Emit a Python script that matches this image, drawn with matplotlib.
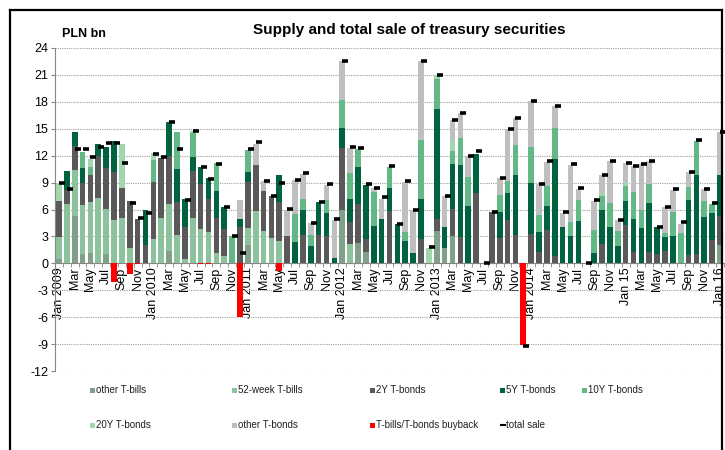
import matplotlib
matplotlib.use("Agg")
from matplotlib import pyplot as plt
from matplotlib.lines import Line2D
from matplotlib.patches import Rectangle
import numpy as np

plt.rcParams['font.family'] = ['Liberation Sans', 'DejaVu Sans']
plt.rcParams['axes.unicode_minus'] = False

# monthly data, Jan 2009 .. Jan 2016 (PLN bn)
months = ['Jan 2009', 'Feb', 'Mar', 'Apr', 'May', 'Jun', 'Jul', 'Aug', 'Sep', 'Oct', 'Nov', 'Dec',
          'Jan 2010', 'Feb', 'Mar', 'Apr', 'May', 'Jun', 'Jul', 'Aug', 'Sep', 'Oct', 'Nov', 'Dec',
          'Jan 2011', 'Feb', 'Mar', 'Apr', 'May', 'Jun', 'Jul', 'Aug', 'Sep', 'Oct', 'Nov', 'Dec',
          'Jan 2012', 'Feb', 'Mar', 'Apr', 'May', 'Jun', 'Jul', 'Aug', 'Sep', 'Oct', 'Nov', 'Dec',
          'Jan 2013', 'Feb', 'Mar', 'Apr', 'May', 'Jun', 'Jul', 'Aug', 'Sep', 'Oct', 'Nov', 'Dec',
          'Jan 2014', 'Feb', 'Mar', 'Apr', 'May', 'Jun', 'Jul', 'Aug', 'Sep', 'Oct', 'Nov', 'Dec',
          'Jan 15', 'Feb', 'Mar', 'Apr', 'May', 'Jun', 'Jul', 'Aug', 'Sep', 'Oct', 'Nov', 'Dec',
          'Jan 16']

other_tbills = [0.5, 0, 5.3, 1.0, 1.2, 0, 1.0, 0, 0, 0, 0, 0,
                0, 0, 1.4, 0, 0, 0, 0, 0, 0, 0, 0, 0,
                2.0, 0, 0, 0, 0, 0, 0, 0, 0, 0, 0, 0,
                5.9, 0, 2.3, 1.3, 0, 0, 0, 0, 0, 0, 0, 0,
                3.6, 1.7, 3.0, 0, 0, 0, 0, 0, 0, 0, 0, 0,
                0, 0, 0, 0, 0, 0, 0, 0, 0, 0, 0, 0,
                0, 0, 0, 0, 0, 0, 0, 0, 0, 0, 0, 0,
                2.0]
tbills_52w = [2.4, 6.6, 5.1, 5.5, 5.6, 7.3, 5.1, 4.8, 5.0, 1.7, 0, 0,
              2.7, 5.1, 5.2, 3.2, 0.5, 5.0, 3.8, 3.5, 1.1, 0.8, 0, 0,
              1.9, 5.8, 3.6, 2.8, 2.5, 0, 0, 0, 0, 0, 0, 0,
              0, 2.2, 0, 0, 0, 0, 0, 0, 0, 0, 0, 0,
              0, 0, 0, 0, 0, 0, 0, 0, 0, 0, 0, 0,
              0, 0, 0, 0, 0, 0, 0, 0, 0, 0, 0, 0,
              0, 0, 0, 0, 0, 0, 0, 0, 0, 0, 0, 0,
              0]
bonds_2y = [4.1, 1.6, 2.7, 2.4, 3.0, 4.7, 4.5, 5.4, 3.4, 5.3, 4.9, 2.0,
            6.4, 6.6, 5.4, 3.6, 3.6, 5.3, 5.0, 3.7, 4.0, 3.0, 0, 4.0,
            5.2, 5.2, 4.5, 4.7, 4.3, 3.0, 0, 3.2, 0, 3.2, 3.1, 0,
            6.9, 2.4, 4.3, 1.4, 0, 0, 5.8, 0, 0, 0, 2.7, 0,
            1.3, 0, 3.1, 2.9, 0, 7.8, 0, 5.7, 2.8, 4.8, 3.2, 0,
            3.3, 1.3, 3.7, 0.8, 0, 0, 0, 0, 0, 2.2, 0, 0,
            4.3, 1.3, 0, 1.3, 1.0, 1.4, 0, 0, 0.9, 1.0, 0, 2.6,
            3.3]
bonds_5y = [0, 2.1, 1.5, 1.7, 0, 1.3, 2.4, 3.4, 0, 0, 0, 3.9,
            0, 0, 3.7, 3.7, 3.1, 1.5, 1.9, 2.3, 3.0, 2.5, 0, 0.9,
            1.1, 0, 0, 0, 3.0, 0, 2.4, 2.7, 1.9, 3.6, 2.5, 0.6,
            2.3, 2.6, 4.1, 6.0, 4.2, 4.9, 2.6, 4.4, 2.5, 1.2, 4.5, 0,
            12.3, 2.4, 5.0, 8.1, 6.4, 4.4, 0, 0, 2.9, 3.0, 6.7, 0,
            5.6, 2.2, 2.7, 10.8, 4.0, 3.0, 4.7, 0, 1.1, 3.8, 4.0, 1.9,
            2.7, 3.6, 3.9, 5.4, 3.0, 1.5, 3.1, 0, 6.2, 8.8, 5.2, 3.0,
            4.5]
bonds_10y = [0, 0, 0, 1.8, 0.9, 0, 0, 0, 0, 0, 0, 0,
             2.4, 0, 0, 4.1, 0, 2.7, 0, 0, 3.1, 0, 3.0, 0,
             2.4, 0, 0, 0, 0, 0, 3.1, 1.3, 1.3, 0, 1.5, 0,
             3.1, 2.9, 2.0, 0, 3.8, 0, 2.3, 0, 1.0, 0, 6.6, 0,
             3.3, 0, 1.4, 3.0, 3.2, 0, 0, 0, 1.9, 1.4, 3.3, 0,
             4.1, 1.9, 2.2, 3.5, 0, 1.6, 2.4, 0, 2.6, 1.5, 2.7, 1.7,
             1.6, 3.1, 2.1, 2.1, 0, 0.5, 2.6, 3.4, 1.4, 3.8, 1.7, 1.0,
             0]
bonds_20y = [1.9, 0, 0, 0, 0.9, 0, 0, 0, 4.9, 0, 0, 0,
             0.8, 0, 0, 0, 0, 0.3, 0, 0, 0, 0, 0, 0,
             0, 0, 0, 0, 0, 0, 0, 0, 0, 0, 0, 0,
             0, 0, 0, 0, 0, 0, 0, 0, 0, 0, 0, 1.7,
             0.5, 0, 1.1, 0, 0, 0, 0, 0, 0, 0, 0, 0,
             0, 0, 0, 0, 0, 0, 0, 0, 0, 0.3, 0, 0,
             0.5, 0, 0, 0, 0, 0, 0, 0, 0, 0, 0, 0,
             0]
other_bonds = [0, 0, 0, 0, 0, 0, 0, 0, 0, 0, 0, 0,
               0, 0, 0, 0, 0, 0, 0, 0, 0, 0, 0, 2.2,
               0, 2.3, 1.1, 0, 0, 3.0, 3.8, 2.8, 1.3, 0, 1.6, 4.2,
               4.4, 2.7, 0, 0, 0.4, 2.3, 0, 0, 5.6, 4.7, 8.8, 0,
               0, 3.4, 2.4, 2.8, 2.4, 0, 0, 0, 1.9, 5.8, 3.0, 0,
               5.1, 3.4, 2.7, 2.4, 1.6, 6.4, 1.2, 0, 3.3, 2.0, 4.7, 1.2,
               2.1, 2.9, 5.1, 2.6, 0, 2.9, 2.5, 1.0, 1.7, 0, 1.4, 0,
               4.8]
buyback = [0, 0, 0, 0, 0, 0, 0, -2.1, 0, -1.2, -0.1, 0,
           0, 0, 0, 0, 0, 0, -0.1, -0.1, 0, 0, 0, -6.0,
           0, 0, 0, 0, -0.9, 0, 0, 0, 0, 0, 0, 0,
           0, 0, 0, 0, 0, 0, 0, 0, 0, 0, 0, 0,
           0, 0, 0, 0, 0, 0, 0, 0, 0, 0, 0, -9.05,
           0, 0, 0, 0, 0, 0, 0, 0, 0, 0, 0, 0,
           0, 0, 0, 0, 0, 0, 0, 0, 0, 0, 0, 0,
           0]
total_sale = [9.0, 8.3, 12.7, 12.7, 11.8, 13.0, 13.4, 13.4, 11.2, 6.7, 5.0, 5.6,
              12.2, 11.8, 15.7, 12.7, 7.1, 14.7, 10.7, 9.4, 11.1, 6.3, 3.0, 1.2,
              12.7, 13.5, 9.2, 7.5, 8.9, 6.1, 9.3, 10.1, 4.5, 6.8, 8.8, 4.9,
              22.6, 13.0, 12.8, 8.8, 8.4, 7.4, 10.8, 4.4, 9.2, 5.9, 22.6, 1.8,
              21.0, 7.5, 16.0, 16.8, 12.0, 12.5, 0.0, 5.7, 9.5, 15.0, 16.2, -9.2,
              18.1, 8.8, 11.4, 17.5, 5.7, 11.1, 8.4, 0.0, 7.1, 9.8, 11.4, 4.8,
              11.2, 10.9, 11.1, 11.4, 4.0, 6.3, 8.3, 4.6, 10.2, 13.7, 8.3, 6.7,
              14.6]

series = [
    ('other T-bills', other_tbills, '#80A08A'),
    ('52-week T-bills', tbills_52w, '#8CC29C'),
    ('2Y T-bonds', bonds_2y, '#595959'),
    ('5Y T-bonds', bonds_5y, '#00623E'),
    ('10Y T-bonds', bonds_10y, '#62B887'),
    ('20Y T-bonds', bonds_20y, '#A2D6AC'),
    ('other T-bonds', other_bonds, '#BFBFBF'),
]

fig = plt.figure(figsize=(7.25, 4.5), dpi=100)
ax = fig.add_axes([55 / 725, 1 - 371 / 450, (724 - 55) / 725, (371 - 48) / 450])

x = np.arange(len(months))
w = 0.72
bottom = np.zeros(len(months))
for name, vals, col in series:
    vals = np.array(vals, dtype=float)
    ax.bar(x, vals, w, bottom=bottom, color=col, linewidth=0, zorder=2)
    bottom += vals
ax.bar(x, buyback, w, color='#FF0000', linewidth=0, zorder=2)
ax.plot(x + 0.38, total_sale, linestyle='none', marker='_', markersize=5,
        markeredgewidth=2.6, color='black', zorder=3)

ax.set_xlim(-0.5, len(months) - 0.5)
ax.set_ylim(-12, 24)
ax.set_yticks(np.arange(-12, 25, 3))
ax.yaxis.grid(True, linestyle=(0, (1, 1)), color='#A0A0A0', linewidth=0.8, zorder=0)
ax.set_axisbelow(True)

ax.spines['top'].set_visible(False)
ax.spines['right'].set_visible(False)
ax.spines['left'].set_color('#868686')
ax.spines['bottom'].set_position(('data', 0))
ax.spines['bottom'].set_color('#868686')
ax.spines['bottom'].set_zorder(1)

lbl_idx = x[::2]
ax.set_xticks(lbl_idx)
ax.set_xticklabels([months[i] for i in lbl_idx], rotation=90, fontsize=9)
ax.tick_params(axis='x', which='major', length=0, pad=3)
ax.set_xticks(np.arange(-0.5, len(months), 1), minor=True)
ax.tick_params(axis='x', which='minor', length=3, color='#868686', direction='out')
ax.tick_params(axis='y', length=3, color='#868686', labelsize=9, pad=2)

fig.text(62 / 725, 1 - 34 / 450, 'PLN bn', fontsize=9, fontweight='bold', va='center')
fig.text(409 / 725, 1 - 30 / 450, 'Supply and total sale of treasury securities',
         fontsize=11, fontweight='bold', ha='center', va='center')

# legend laid out in the chart's fixed cells
leg_items = [(s[0], s[2]) for s in series] + [('T-bills/T-bonds buyback', '#FF0000')]
cells = [(90, 390), (232, 390), (370, 390), (500, 390), (582, 390),
         (90, 425), (232, 425), (370, 425)]
for (name, col), (px, py) in zip(leg_items, cells):
    fig.add_artist(Rectangle((px / 725, 1 - (py + 3) / 450), 5 / 725, 5 / 450,
                             transform=fig.transFigure, color=col, linewidth=0))
    fig.text((px + 6) / 725, 1 - py / 450, name, fontsize=7, va='center', color='#202020')
fig.add_artist(Line2D([501 / 725, 505 / 725], [1 - 425 / 450] * 2, transform=fig.transFigure,
                      color='black', linewidth=1.5))
fig.text(506 / 725, 1 - 425 / 450, 'total sale', fontsize=7, va='center', color='#202020')

# outer frame
for xs, ys in [([10, 722], [10, 10]), ([10, 10], [10, 450]), ([722, 722], [10, 450])]:
    fig.add_artist(Line2D([v / 725 for v in xs], [1 - v / 450 for v in ys],
                          transform=fig.transFigure, color='black', linewidth=1.6))

fig.savefig('out.png', dpi=100)
